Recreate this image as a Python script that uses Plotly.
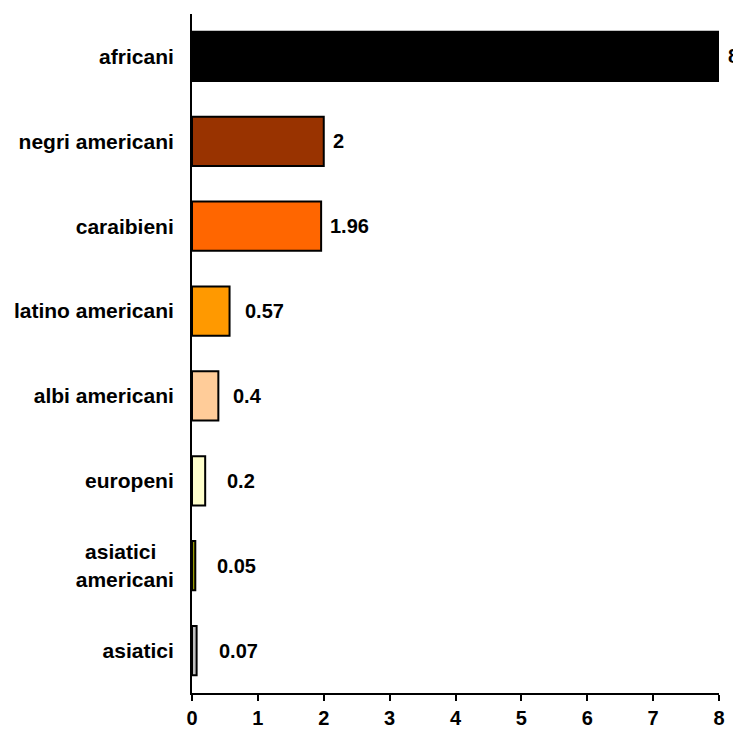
import plotly.graph_objects as go

categories = ["africani", "negri americani", "caraibieni", "latino americani",
              "albi americani", "europeni", "asiatici americani", "asiatici"]
tick_labels = ["africani", "negri americani", "caraibieni", "latino americani",
               "albi americani", "europeni", "asiatici&nbsp;&nbsp;&nbsp;<br>americani", "asiatici"]
values = [8, 2, 1.96, 0.57, 0.4, 0.2, 0.05, 0.07]
value_labels = ["8", "2", "1.96", "0.57", "0.4", "0.2", "0.05", "0.07"]
colors = ["#000000", "#993300", "#FF6600", "#FF9900", "#FFCC99", "#FFFFCC", "#999900", "#C0C0C0"]
x_ticks = [0, 1, 2, 3, 4, 5, 6, 7, 8]

FONT = "Liberation Sans, Arial, sans-serif"
FS = 20

fig = go.Figure()
fig.add_trace(go.Bar(
    y=categories, x=values, orientation="h",
    marker=dict(color=colors, line=dict(color="#000000", width=2)),
    width=0.58,
    hoverinfo="skip",
))

for cat, v, lab in zip(categories, values, value_labels):
    shift = 7 if v >= 1 else (13 if v >= 0.3 else 20)
    fig.add_annotation(
        x=v, y=cat, text="<b>%s</b>" % lab,
        showarrow=False, xanchor="left", yanchor="middle",
        xshift=shift,
        font=dict(family=FONT, size=FS, color="#000000"),
    )

fig.update_layout(
    width=733, height=720,
    margin=dict(l=184, r=22, t=6, b=35),
    paper_bgcolor="white", plot_bgcolor="white",
    showlegend=False,
    font=dict(family=FONT, size=FS, color="#000000"),
)
fig.update_xaxes(
    range=[0, 8], tickvals=x_ticks,
    ticktext=["<b>%d</b>" % t for t in x_ticks],
    showgrid=False, zeroline=False, automargin=False,
    showline=True, linecolor="#000000", linewidth=2,
    ticks="outside", ticklen=6, tickwidth=2, tickcolor="#000000",
    tickfont=dict(family=FONT, size=FS),
)
fig.update_yaxes(
    categoryorder="array", categoryarray=categories[::-1],
    range=[-0.5, 7.5], automargin=False,
    ticktext=["<b>%s</b>" % c for c in tick_labels], tickvals=categories,
    showgrid=False, zeroline=False,
    showline=True, linecolor="#000000", linewidth=2,
    ticks="", ticklabelstandoff=12,
    tickfont=dict(family=FONT, size=21),
)

fig.write_html("out.html")
